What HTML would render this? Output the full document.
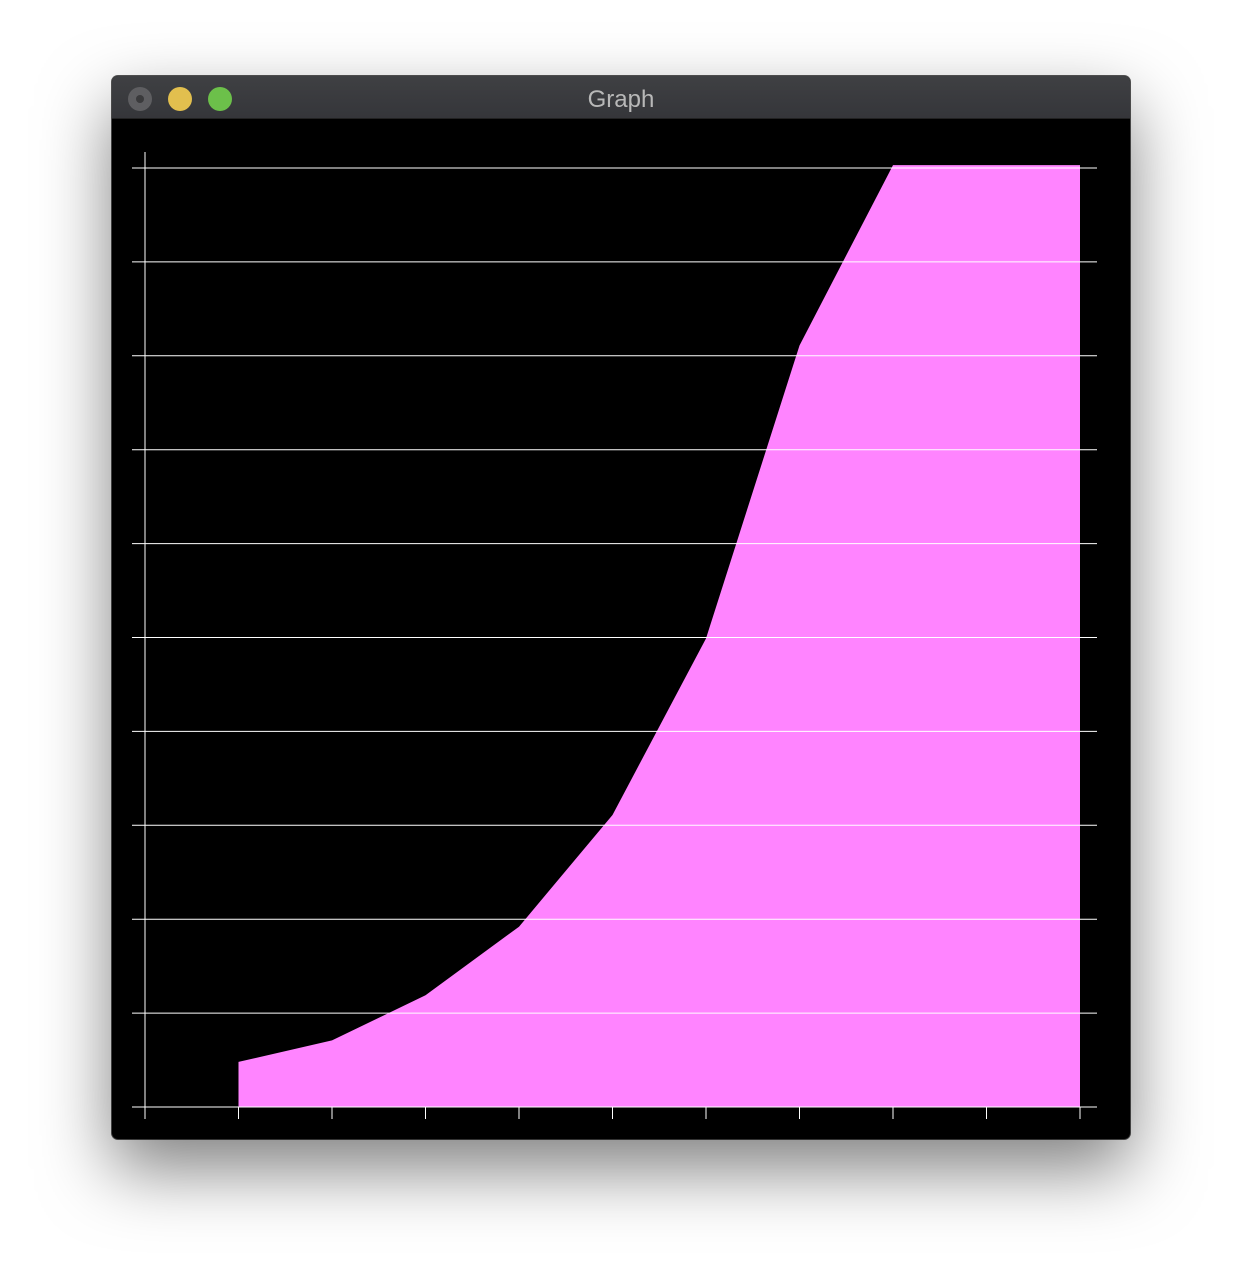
<!DOCTYPE html>
<html><head><meta charset="utf-8"><style>
html,body{margin:0;padding:0;background:#fff;width:1242px;height:1288px;overflow:hidden}
#win{position:absolute;left:112px;top:76px;width:1018px;height:1063px;background:#000;border-radius:6px;box-shadow:0 30px 70px rgba(0,0,0,0.5),0 0 0 1px #555;overflow:hidden}
#bar{position:absolute;left:0;top:0;width:100%;height:42px;background:linear-gradient(#3f4043,#35363a);border-bottom:1px solid #222}
.dot{position:absolute;top:11px;width:24px;height:24px;border-radius:50%}
#title{position:absolute;left:0;right:0;top:10px;text-align:center;font:24px "Liberation Sans",sans-serif;color:#b8b8b8}
svg{position:absolute;left:0;top:0}
</style></head><body>
<div id="win">
<div id="bar">
<div class="dot" style="left:16px;background:#5e5e61"><div style="position:absolute;left:8px;top:8px;width:8px;height:8px;border-radius:50%;background:#3a3a3c"></div></div>
<div class="dot" style="left:56px;background:#e2bf4e"></div>
<div class="dot" style="left:96px;background:#6cc04a"></div>
<div id="title">Graph</div>
</div>
</div>
<svg id="chart" width="1242" height="1288"></svg>
<script>
const xs=[0,1,2,3,4,5,6,7,8,9,10];
const values=[null,0.48,0.71,1.19,1.92,3.11,4.99,8.11,10.03,10.03,10.03];
const yTicks=[0,1,2,3,4,5,6,7,8,9,10];
const NS="http://www.w3.org/2000/svg";
const svg=document.getElementById('chart');
const X=v=>145+v*93.5, Y=v=>1107-v*93.9;
function mk(t,a){const e=document.createElementNS(NS,t);for(const k in a)e.setAttribute(k,a[k]);svg.appendChild(e);return e;}
let pts=[];let first=null,last=null;
xs.forEach((x,i)=>{if(values[i]!=null){if(first==null)first=x;last=x;pts.push(X(x)+','+Y(values[i]));}});
pts.unshift(X(first)+','+Y(0));pts.push(X(last)+','+Y(0));
const area=mk('polygon',{points:pts.join(' '),fill:'#ff84ff'});


yTicks.forEach(t=>{const l=mk('line',{x1:132,x2:1097,y1:Y(t),y2:Y(t),stroke:'#fff','stroke-width':1});

});
xs.forEach(x=>{const l=mk('line',{x1:X(x),x2:X(x),y1:1107,y2:1119,stroke:'#fff','stroke-width':1});

});
const ya=mk('line',{x1:145,x2:145,y1:152,y2:1119,stroke:'#fff','stroke-width':1});


</script>
</body></html>
